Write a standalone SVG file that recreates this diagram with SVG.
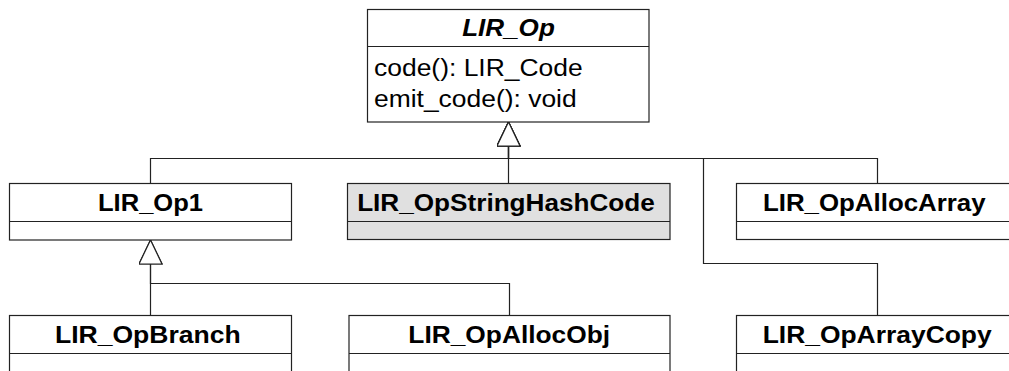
<svg xmlns="http://www.w3.org/2000/svg" width="1009" height="371" viewBox="0 0 1009 371">
  <style>
    .box { fill: #ffffff; stroke: #222222; stroke-width: 1.2; }
    .box.hl { fill: #e0e0e0; }
    .div { stroke: #222222; stroke-width: 1.2; fill: none; }
    .name { font-family: "Liberation Sans", Arial, sans-serif; font-size: 23px; font-weight: bold; fill: #000000; text-anchor: middle; }
    .abstract { font-style: italic; }
    .op { font-family: "Liberation Sans", Arial, sans-serif; font-size: 23px; fill: #000000; }
    .link { fill: none; stroke: #222222; stroke-width: 1.2; }
  </style>
  <defs>
    <marker id="inherit" markerUnits="userSpaceOnUse" markerWidth="26" markerHeight="26" viewBox="0 0 26 26" refX="24.5" refY="12" orient="auto">
      <path d="M0.5,0.5 L24.5,12 L0.5,23.5 Z" fill="#ffffff" stroke="#222222" stroke-width="1.2"/>
    </marker>
  </defs>
  <rect width="1009" height="371" fill="#ffffff"/>

  <!-- generalization links -->
  <g id="connectors">
    <path class="link" d="M150.5,183.5 V158.5 H508.5 V122" marker-end="url(#inherit)"/>
    <path class="link" d="M508.5,183.5 V122" marker-end="url(#inherit)"/>
    <path class="link" d="M877.5,183.5 V158.5 H508.5 V122" marker-end="url(#inherit)"/>
    <path class="link" d="M877.5,315.5 V263.5 H703.5 V158.5 H508.5 V122" marker-end="url(#inherit)"/>
    <path class="link" d="M150.5,315.5 V240" marker-end="url(#inherit)"/>
    <path class="link" d="M509.5,315.5 V283.5 H150.5 V240" marker-end="url(#inherit)"/>
  </g>

  <g id="LIR_Op">
    <rect class="box" x="367.5" y="9.5" width="281.5" height="112.5"/>
    <line class="div" x1="367.5" y1="46.5" x2="649" y2="46.5"/>
    <text class="name abstract" x="508.5" y="36" textLength="92.6" lengthAdjust="spacingAndGlyphs">LIR_Op</text>
    <text class="op" x="374" y="76" textLength="208.7" lengthAdjust="spacingAndGlyphs">code(): LIR_Code</text>
    <text class="op" x="374" y="107" textLength="202.7" lengthAdjust="spacingAndGlyphs">emit_code(): void</text>
  </g>

  <g id="LIR_Op1">
    <rect class="box" x="9.5" y="183.5" width="282" height="56.5"/>
    <line class="div" x1="9.5" y1="221.5" x2="291.5" y2="221.5"/>
    <text class="name" x="150.5" y="211" textLength="105" lengthAdjust="spacingAndGlyphs">LIR_Op1</text>
  </g>

  <g id="LIR_OpStringHashCode">
    <rect class="box hl" x="347.5" y="183.5" width="322.5" height="56"/>
    <line class="div" x1="347.5" y1="221.5" x2="670" y2="221.5"/>
    <text class="name" x="506" y="211" textLength="297.7" lengthAdjust="spacingAndGlyphs">LIR_OpStringHashCode</text>
  </g>

  <g id="LIR_OpAllocArray">
    <rect class="box" x="736.5" y="183.5" width="280" height="56"/>
    <line class="div" x1="736.5" y1="221.5" x2="1016.5" y2="221.5"/>
    <text class="name" x="874.3" y="211" textLength="222.7" lengthAdjust="spacingAndGlyphs">LIR_OpAllocArray</text>
  </g>

  <g id="LIR_OpBranch">
    <rect class="box" x="9.5" y="315.5" width="282" height="70"/>
    <line class="div" x1="9.5" y1="353.5" x2="291.5" y2="353.5"/>
    <text class="name" x="147.8" y="343.3" textLength="185.7" lengthAdjust="spacingAndGlyphs">LIR_OpBranch</text>
  </g>

  <g id="LIR_OpAllocObj">
    <rect class="box" x="349" y="315.5" width="321" height="70"/>
    <line class="div" x1="349" y1="353.5" x2="670" y2="353.5"/>
    <text class="name" x="509.2" y="343.3" textLength="201.7" lengthAdjust="spacingAndGlyphs">LIR_OpAllocObj</text>
  </g>

  <g id="LIR_OpArrayCopy">
    <rect class="box" x="736.5" y="315.5" width="280" height="70"/>
    <line class="div" x1="736.5" y1="353.5" x2="1016.5" y2="353.5"/>
    <text class="name" x="877.2" y="343.3" textLength="229" lengthAdjust="spacingAndGlyphs">LIR_OpArrayCopy</text>
  </g>
</svg>
